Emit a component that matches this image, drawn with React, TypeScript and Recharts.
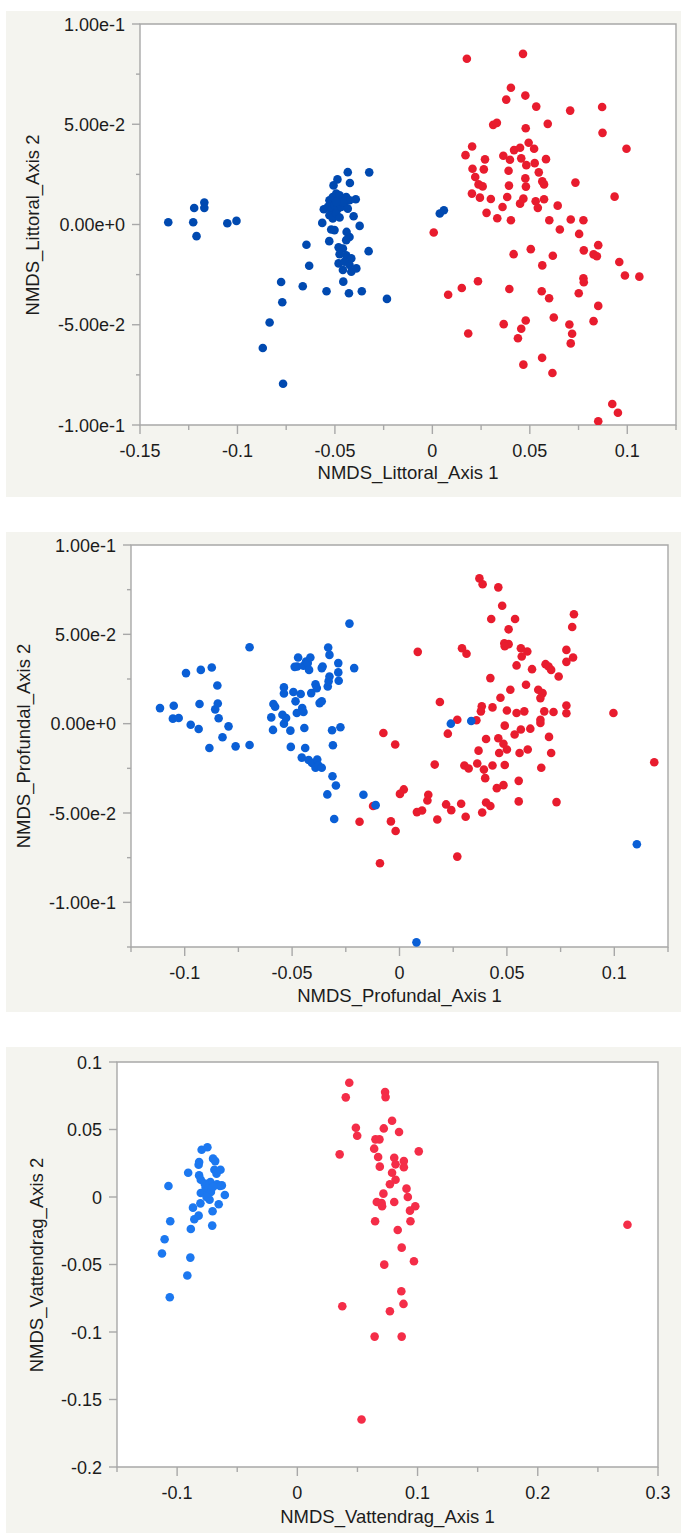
import React from 'react';
import { ScatterChart, Scatter, XAxis, YAxis, CartesianGrid, ReferenceArea } from 'recharts';

type P = [number, number];

// --- Littoral ---
const littoralBlue: P[] = [
  [-0.1355, 0.0011], [-0.1227, 0.0011], [-0.1222, 0.0082], [-0.121, -0.0058], [-0.117, 0.011], [-0.117, 0.0083],
  [-0.1052, 0.0006], [-0.1005, 0.0018], [-0.087, -0.0616], [-0.0835, -0.0489], [-0.0776, -0.0287], [-0.077, -0.0388],
  [-0.0766, -0.0794], [-0.0665, -0.0308], [-0.0646, -0.0101], [-0.0632, -0.0206], [-0.0543, -0.0333], [-0.0529, -0.0083],
  [-0.0565, 0.0008], [-0.0457, -0.0285], [-0.0428, -0.0343], [-0.0362, -0.0333], [-0.0327, -0.0133], [-0.0324, 0.026],
  [-0.0233, -0.0371], [-0.0434, 0.0261], [-0.0423, 0.0207], [-0.0487, 0.0225], [-0.0507, 0.0195], [-0.0373, -0.0007],
  [-0.0404, 0.0041], [-0.0393, 0.0126], [-0.0557, 0.0076], [-0.0528, 0.0121], [-0.0511, 0.0137], [-0.0493, 0.0154],
  [-0.0476, 0.0146], [-0.0459, 0.0129], [-0.0442, 0.0137], [-0.0425, 0.0121], [-0.0536, 0.0088], [-0.0519, 0.0071],
  [-0.0502, 0.0096], [-0.0485, 0.0079], [-0.0468, 0.0088], [-0.0451, 0.0096], [-0.0434, 0.0079], [-0.0528, 0.0046],
  [-0.0511, 0.003], [-0.0493, 0.0055], [-0.0476, 0.0035], [-0.0519, -0.0025], [-0.0502, -0.0028], [-0.0459, 0.0112],
  [-0.0493, 0.0112], [-0.044, -0.0037], [-0.0425, -0.0062], [-0.0442, -0.0078], [-0.0481, -0.0114], [-0.0459, -0.012],
  [-0.0476, -0.0148], [-0.0442, -0.0153], [-0.0416, -0.0169], [-0.0481, -0.0194], [-0.0451, -0.0186], [-0.0425, -0.0202],
  [-0.0459, -0.0227], [-0.0416, -0.0236], [-0.039, -0.0219], [0.0038, 0.0055], [0.0059, 0.0071],
];
const littoralRed: P[] = [
  [0.0177, 0.0827], [0.0465, 0.0851], [0.0403, 0.0682], [0.0379, 0.0623], [0.0477, 0.0643], [0.0533, 0.0588],
  [0.0707, 0.0568], [0.0871, 0.0586], [0.0873, 0.0457], [0.0996, 0.0378], [0.0312, 0.0497], [0.0331, 0.0507],
  [0.0479, 0.048], [0.0592, 0.0502], [0.0204, 0.0389], [0.017, 0.0346], [0.027, 0.0325], [0.0364, 0.0343],
  [0.0398, 0.0323], [0.0419, 0.0371], [0.045, 0.0383], [0.0494, 0.0408], [0.0522, 0.0378], [0.0456, 0.033],
  [0.0482, 0.0296], [0.0525, 0.0306], [0.0583, 0.0326], [0.0206, 0.0278], [0.0264, 0.0275], [0.0391, 0.0268],
  [0.0546, 0.026], [0.022, 0.0237], [0.0237, 0.02], [0.0258, 0.019], [0.0477, 0.023], [0.048, 0.0189],
  [0.0393, 0.0194], [0.0564, 0.0215], [0.0573, 0.02], [0.0734, 0.0209], [0.0935, 0.0139], [0.0203, 0.0154],
  [0.0244, 0.0134], [0.03, 0.0127], [0.0384, 0.0137], [0.0467, 0.0129], [0.045, 0.0104], [0.053, 0.0116],
  [0.0573, 0.0126], [0.0541, 0.0083], [0.0643, 0.0094], [0.036, 0.0087], [0.0278, 0.0058], [0.0333, 0.0031],
  [0.0403, 0.0021], [0.06, 0.0021], [0.071, 0.0025], [0.0775, 0.0021], [0.0654, -0.0025], [0.0753, -0.0047],
  [0.0007, -0.004], [0.0851, -0.0103], [0.0777, -0.0129], [0.0827, -0.0149], [0.0844, -0.0158], [0.0959, -0.0187],
  [0.0988, -0.0254], [0.1062, -0.026], [0.0417, -0.0148], [0.0505, -0.0123], [0.0618, -0.0156], [0.0564, -0.0204],
  [0.0234, -0.0283], [0.0151, -0.0317], [0.0081, -0.035], [0.0395, -0.0322], [0.0561, -0.0333], [0.0599, -0.0368],
  [0.0775, -0.0268], [0.0777, -0.0288], [0.0751, -0.0343], [0.0851, -0.0406], [0.0827, -0.0482], [0.0184, -0.0544],
  [0.0366, -0.0497], [0.0479, -0.0479], [0.0456, -0.052], [0.0439, -0.0567], [0.0623, -0.0464], [0.0703, -0.0499],
  [0.0717, -0.0545], [0.071, -0.0593], [0.0467, -0.0699], [0.0563, -0.0665], [0.0616, -0.0741], [0.0923, -0.0895],
  [0.0952, -0.0939], [0.0851, -0.0981],
];
const littoralXMajor = [-0.15, -0.1, -0.05, 0, 0.05, 0.1];
const littoralXMinor = [-0.125, -0.075, -0.025, 0.025, 0.075, 0.125];
const littoralYMajor = [-0.1, -0.05, 0, 0.05, 0.1];
const littoralYMinor = [-0.075, -0.025, 0.025, 0.075];

// --- Profundal ---
const profundalBlue: P[] = [
  [-0.1115, 0.0087], [-0.1051, 0.01], [-0.1055, 0.0028], [-0.1028, 0.0032], [-0.0994, 0.0283], [-0.0972, -0.0006],
  [-0.0935, -0.003], [-0.0931, 0.011], [-0.0925, 0.0301], [-0.0885, -0.0136], [-0.0874, 0.0314], [-0.0858, 0.008],
  [-0.0848, 0.0214], [-0.0846, 0.0113], [-0.0842, 0.003], [-0.0824, -0.0076], [-0.0796, -0.0015], [-0.0763, -0.0127],
  [-0.0698, -0.0119], [-0.0698, 0.0428], [-0.0597, 0.0035], [-0.0589, -0.0035], [-0.0587, 0.011], [-0.0579, 0.0095],
  [-0.0538, 0.0203], [-0.0538, 0.0169], [-0.0545, 0.005], [-0.0538, 0.0], [-0.0528, 0.0032], [-0.0508, -0.0039],
  [-0.0506, -0.013], [-0.0494, 0.0177], [-0.0484, 0.0125], [-0.0478, 0.006], [-0.0476, 0.032], [-0.0472, 0.037],
  [-0.0488, 0.0318], [-0.046, 0.0166], [-0.0453, 0.0087], [-0.0447, 0.0065], [-0.0443, -0.0024], [-0.0439, -0.0136],
  [-0.0455, -0.019], [-0.0447, 0.0324], [-0.0435, 0.0348], [-0.0427, 0.0339], [-0.0415, 0.037], [-0.0421, 0.0301],
  [-0.0411, 0.0171], [-0.0391, 0.022], [-0.0385, 0.0199], [-0.0423, -0.0203], [-0.0407, -0.022], [-0.0391, -0.0247],
  [-0.0383, -0.0201], [-0.0377, -0.0234], [-0.0362, -0.0247], [-0.0372, 0.0115], [-0.0362, 0.0125], [-0.0362, 0.0311],
  [-0.0358, 0.032], [-0.0332, 0.0426], [-0.0326, 0.0385], [-0.0334, 0.0208], [-0.033, 0.0238], [-0.0326, 0.0264],
  [-0.0285, 0.0339], [-0.0285, 0.0287], [-0.0283, 0.024], [-0.0275, -0.002], [-0.0314, -0.0037], [-0.031, -0.0121],
  [-0.0312, -0.0294], [-0.0296, -0.0346], [-0.0336, -0.0396], [-0.0304, -0.0534], [-0.0233, 0.056], [-0.0211, 0.0311],
  [-0.0168, -0.0398], [-0.0111, -0.0456], [0.0239, 0.0], [0.0334, 0.0015], [0.0079, -0.1224], [0.1105, -0.0675],
];
const profundalRed: P[] = [
  [0.0372, 0.0813], [0.0387, 0.078], [0.046, 0.0763], [0.0478, 0.066], [0.0427, 0.0586], [0.0538, 0.0586],
  [0.0508, 0.0528], [0.0812, 0.0612], [0.0804, 0.0541], [0.0488, 0.045], [0.0508, 0.0445], [0.049, 0.0433],
  [0.0565, 0.0422], [0.0595, 0.0404], [0.0569, 0.0376], [0.0777, 0.0413], [0.0777, 0.0346], [0.0808, 0.037],
  [0.0545, 0.0326], [0.0617, 0.0305], [0.068, 0.0333], [0.0694, 0.032], [0.0706, 0.0301], [0.0741, 0.0264],
  [0.0423, 0.0255], [0.0085, 0.0402], [0.0291, 0.0422], [0.0312, 0.0391], [0.0516, 0.019], [0.0589, 0.0218],
  [0.0646, 0.019], [0.0666, 0.0171], [0.0656, 0.0143], [0.047, 0.0145], [0.0188, 0.0121], [0.0383, 0.0097],
  [0.0379, 0.0069], [0.0433, 0.0091], [0.05, 0.0074], [0.0545, 0.006], [0.0581, 0.0069], [0.0674, 0.0069],
  [0.0717, 0.0065], [0.0777, 0.0102], [0.0777, 0.0058], [0.0996, 0.006], [0.0656, 0.0022], [0.0656, 0.0004],
  [0.0358, 0.0019], [0.0269, 0.0022], [0.049, -0.0011], [0.0565, -0.0033], [0.0609, -0.0028], [0.0536, -0.0061],
  [0.0225, -0.0056], [-0.0075, -0.0052], [-0.002, -0.0117], [0.0403, -0.0086], [0.046, -0.0082], [0.0484, -0.0112],
  [0.05, -0.0145], [0.0464, -0.0164], [0.0368, -0.0151], [0.0559, -0.0164], [0.0597, -0.0145], [0.0696, -0.0074],
  [0.0706, -0.0164], [0.0164, -0.0229], [0.0302, -0.0234], [0.0322, -0.0251], [0.0362, -0.0223], [0.0393, -0.0257],
  [0.0399, -0.0305], [0.0433, -0.0234], [0.049, -0.0231], [0.066, -0.0247], [0.0453, -0.0361], [0.0484, -0.0344],
  [0.0555, -0.032], [0.0423, -0.0461], [0.0403, -0.0441], [0.0555, -0.0435], [0.0731, -0.0439], [0.002, -0.0368],
  [0.0002, -0.0393], [0.0134, -0.0398], [0.013, -0.043], [0.0217, -0.0452], [0.0241, -0.0484], [0.0287, -0.0448],
  [0.0105, -0.0486], [0.0081, -0.0495], [0.0176, -0.0536], [0.0308, -0.0521], [0.0385, -0.0497], [-0.0123, -0.0461],
  [-0.0186, -0.0549], [-0.004, -0.0547], [-0.0018, -0.0601], [-0.0091, -0.0781], [0.0269, -0.0744], [0.1186, -0.0216],
];
const profundalXMajor = [-0.1, -0.05, 0, 0.05, 0.1];
const profundalXMinor = [-0.125, -0.075, -0.025, 0.025, 0.075, 0.125];
const profundalYMajor = [-0.1, -0.05, 0, 0.05, 0.1];
const profundalYMinor = [-0.125, -0.075, -0.025, 0.025, 0.075];

// --- Vattendrag ---
const vattendragBlue: P[] = [
  [-0.1126, -0.0419], [-0.1104, -0.0313], [-0.1072, 0.0081], [-0.1057, -0.018], [-0.1061, -0.0743], [-0.0915, -0.0582],
  [-0.089, -0.0449], [-0.0886, -0.0237], [-0.0908, 0.018], [-0.0868, -0.0079], [-0.0857, -0.0165], [-0.0821, -0.0138],
  [-0.0821, 0.0239], [-0.0817, 0.0259], [-0.0817, 0.016], [-0.0803, 0.0128], [-0.0806, -0.0047], [-0.0803, 0.003],
  [-0.0796, 0.035], [-0.0748, 0.0368], [-0.0763, 0.0069], [-0.0748, 0.0025], [-0.073, -0.002], [-0.0723, 0.0111],
  [-0.0708, -0.0212], [-0.0705, -0.0106], [-0.0701, 0.0284], [-0.0683, 0.0266], [-0.069, 0.0202], [-0.0672, 0.0173],
  [-0.0668, 0.0094], [-0.0654, -0.0054], [-0.0643, 0.0081], [-0.0639, 0.0202], [-0.0628, 0.0086], [-0.0603, 0.0015],
  [-0.077, 0.0099], [-0.0741, 0.0062], [-0.0719, 0.0037], [-0.0701, 0.0074], [-0.0755, 0.0],
];
const vattendragRed: P[] = [
  [0.0432, 0.0846], [0.0403, 0.0738], [0.073, 0.0777], [0.0734, 0.074], [0.0788, 0.0565], [0.0487, 0.0513],
  [0.0498, 0.0454], [0.0719, 0.0508], [0.0846, 0.0481], [0.065, 0.0427], [0.0683, 0.0427], [0.0639, 0.0358],
  [0.0352, 0.0316], [0.101, 0.0338], [0.0672, 0.0296], [0.0806, 0.0291], [0.0886, 0.0266], [0.0686, 0.0225],
  [0.0817, 0.0242], [0.0886, 0.022], [0.0788, 0.018], [0.0817, 0.0128], [0.077, 0.0094], [0.0908, 0.0062],
  [0.0716, 0.0025], [0.0919, 0.0], [0.0661, -0.0037], [0.0701, -0.0044], [0.0806, -0.0037], [0.0705, -0.0069],
  [0.0981, -0.0069], [0.0937, -0.0101], [0.0647, -0.018], [0.0941, -0.018], [0.0835, -0.0244], [0.0868, -0.0375],
  [0.097, -0.0476], [0.0723, -0.0501], [0.0865, -0.0698], [0.0883, -0.0792], [0.0374, -0.0809], [0.077, -0.0846],
  [0.0643, -0.1034], [0.0868, -0.1034], [0.0534, -0.1648], [0.2746, -0.0205],
];
const vattendragXMajor = [-0.1, 0, 0.1, 0.2, 0.3];
const vattendragXMinor = [-0.15, -0.05, 0.05, 0.15, 0.25];
const vattendragYMajor = [-0.2, -0.15, -0.1, -0.05, 0, 0.05, 0.1];
const vattendragYMinor: number[] = [];

const AXIS = '#a8a8a8';
const TEXT = '#1c1c1c';
const BG = '#f4f4ef';
const FONT = '"Liberation Sans", Arial, Helvetica, sans-serif';
const TICK_FONT = 18;
const TITLE_FONT = 18.5;

const isMajor = (list: number[], v: number) => list.some((m) => Math.abs(m - v) < 1e-9);
const plain = (v: number) => String(Math.round(v * 1000) / 1000);
const sci = (v: number) => v.toExponential(2);

function xTick(majors: number[], fmt: (v: number) => string) {
  return (p: any) => {
    const v = p.payload.value;
    const major = isMajor(majors, v);
    return (
      <g>
        <line x1={p.x} x2={p.x} y1={p.y} y2={p.y + (major ? 9 : 5)} stroke={AXIS} strokeWidth={1.4} />
        {major && (
          <text x={p.x} y={p.y + 31.5} textAnchor="middle" fontSize={TICK_FONT} fill={TEXT} fontFamily={FONT}>
            {fmt(v)}
          </text>
        )}
      </g>
    );
  };
}

function yTick(majors: number[], fmt: (v: number) => string) {
  return (p: any) => {
    const v = p.payload.value;
    const major = isMajor(majors, v);
    return (
      <g>
        <line x1={p.x - (major ? 8 : 4)} x2={p.x} y1={p.y} y2={p.y} stroke={AXIS} strokeWidth={1.4} />
        {major && (
          <text x={p.x - 15} y={p.y + 6.5} textAnchor="end" fontSize={TICK_FONT} fill={TEXT} fontFamily={FONT}>
            {fmt(v)}
          </text>
        )}
      </g>
    );
  };
}

interface PanelProps {
  top: number;
  height: number;
  blue: P[];
  red: P[];
  blueColor: string;
  redColor: string;
  xDomain: [number, number];
  yDomain: [number, number];
  xMajor: number[];
  xMinor: number[];
  yMajor: number[];
  yMinor: number[];
  yFmt: (v: number) => string;
  margin: { top: number; right: number };
  yAxisWidth: number;
  xAxisHeight: number;
  xTitle: string;
  yTitle: string;
  xTitleY: number;
  yTitleX: number;
}

function Panel(props: PanelProps) {
  const W = 675;
  const { top, height, margin, yAxisWidth, xAxisHeight } = props;
  const plotLeft = yAxisWidth;
  const plotRight = W - margin.right;
  const plotTop = margin.top;
  const plotBottom = height - xAxisHeight;
  const toPts = (d: P[]) => d.map(([x, y]) => ({ x, y }));
  const dot = (color: string) => (s: any) => <circle cx={s.cx} cy={s.cy} r={4.3} fill={color} />;

  const titleStyle: React.CSSProperties = {
    position: 'absolute',
    height: 20,
    lineHeight: '20px',
    textAlign: 'center',
    fontFamily: FONT,
    fontSize: TITLE_FONT,
    color: TEXT,
    whiteSpace: 'nowrap',
  };

  return (
    <div style={{ position: 'absolute', left: 6, top, width: W, height, background: BG }}>
      <ScatterChart
        width={W}
        height={height}
        margin={{ top: margin.top, right: margin.right, bottom: 0, left: 0 }}
      >
        <CartesianGrid horizontal={false} vertical={false} fill="#ffffff" />
        <XAxis
          dataKey="x"
          type="number"
          domain={props.xDomain}
          allowDataOverflow
          ticks={[...props.xMajor, ...props.xMinor].sort((a, b) => a - b)}
          interval={0}
          height={xAxisHeight}
          tickSize={0}
          tickMargin={0}
          axisLine={false}
          tick={xTick(props.xMajor, plain)}
        />
        <YAxis
          dataKey="y"
          type="number"
          domain={props.yDomain}
          allowDataOverflow
          ticks={[...props.yMajor, ...props.yMinor].sort((a, b) => a - b)}
          interval={0}
          width={yAxisWidth}
          tickSize={0}
          tickMargin={0}
          axisLine={false}
          tick={yTick(props.yMajor, props.yFmt)}
        />
        <ReferenceArea
          x1={props.xDomain[0]}
          x2={props.xDomain[1]}
          y1={props.yDomain[0]}
          y2={props.yDomain[1]}
          fill="none"
          stroke={AXIS}
          strokeWidth={1.4}
        />
        <Scatter data={toPts(props.red)} fill={props.redColor} shape={dot(props.redColor)} isAnimationActive={false} />
        <Scatter data={toPts(props.blue)} fill={props.blueColor} shape={dot(props.blueColor)} isAnimationActive={false} />
      </ScatterChart>
      <div style={{ ...titleStyle, left: plotLeft, width: plotRight - plotLeft, top: props.xTitleY - 10 }}>
        {props.xTitle}
      </div>
      <div
        style={{
          ...titleStyle,
          left: props.yTitleX - 200,
          top: (plotTop + plotBottom) / 2 - 10,
          width: 400,
          transform: 'rotate(-90deg)',
        }}
      >
        {props.yTitle}
      </div>
    </div>
  );
}

export default function App() {
  return (
    <div>
      <Panel
        top={11}
        height={486}
        blue={littoralBlue}
        red={littoralRed}
        blueColor="#0049b0"
        redColor="#e81c2e"
        xDomain={[-0.15, 0.125]}
        yDomain={[-0.1, 0.1]}
        xMajor={littoralXMajor}
        xMinor={littoralXMinor}
        yMajor={littoralYMajor}
        yMinor={littoralYMinor}
        yFmt={sci}
        margin={{ top: 13, right: 5 }}
        yAxisWidth={134}
        xAxisHeight={72}
        xTitle="NMDS_Littoral_Axis 1"
        yTitle="NMDS_Littoral_Axis 2"
        xTitleY={462}
        yTitleX={27}
      />
      <Panel
        top={532}
        height={480}
        blue={profundalBlue}
        red={profundalRed}
        blueColor="#0a5fd6"
        redColor="#e81c2e"
        xDomain={[-0.125, 0.125]}
        yDomain={[-0.125, 0.1]}
        xMajor={profundalXMajor}
        xMinor={profundalXMinor}
        yMajor={profundalYMajor}
        yMinor={profundalYMinor}
        yFmt={sci}
        margin={{ top: 13, right: 13 }}
        yAxisWidth={125}
        xAxisHeight={65}
        xTitle="NMDS_Profundal_Axis 1"
        yTitle="NMDS_Profundal_Axis 2"
        xTitleY={464}
        yTitleX={18}
      />
      <Panel
        top={1047}
        height={486}
        blue={vattendragBlue}
        red={vattendragRed}
        blueColor="#1c78f0"
        redColor="#f42d48"
        xDomain={[-0.15, 0.3]}
        yDomain={[-0.2, 0.1]}
        xMajor={vattendragXMajor}
        xMinor={vattendragXMinor}
        yMajor={vattendragYMajor}
        yMinor={vattendragYMinor}
        yFmt={plain}
        margin={{ top: 15, right: 23 }}
        yAxisWidth={111}
        xAxisHeight={66}
        xTitle="NMDS_Vattendrag_Axis 1"
        yTitle="NMDS_Vattendrag_Axis 2"
        xTitleY={470}
        yTitleX={31}
      />
    </div>
  );
}
